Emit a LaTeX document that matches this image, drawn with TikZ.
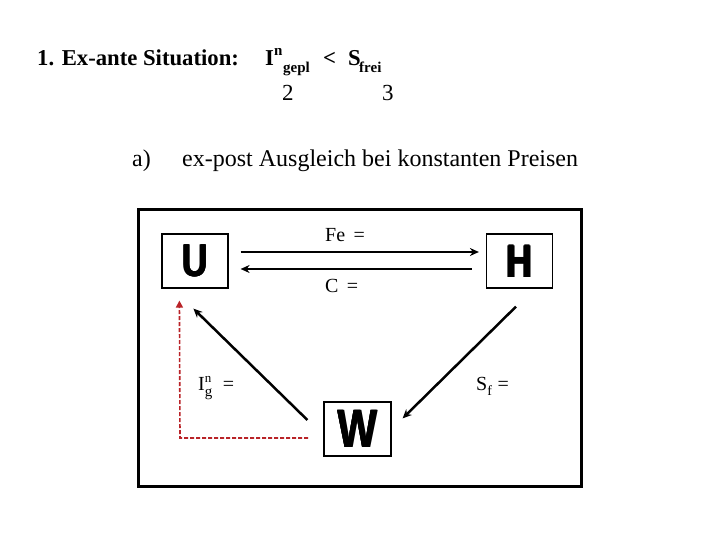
\documentclass[tikz,border=0pt]{standalone}
\usepackage{fontspec}
\setmainfont{Liberation Serif}
\newfontfamily\boxfont{Liberation Sans}
\usetikzlibrary{arrows.meta,calc}
\definecolor{dred}{RGB}{185,35,40}
\newcommand\heavyglyph[1]{\makebox[0pt][l]{\hspace{-0.8pt}#1}\makebox[0pt][l]{\hspace{0.8pt}#1}\makebox[0pt][l]{\raisebox{0.5pt}{#1}}#1}
\tikzset{
  lbl/.style={anchor=base west,inner sep=0pt},
  letterbox/.style={draw,line width=1.2pt,minimum width=66pt,minimum height=54pt,inner sep=0pt,font=\boxfont\bfseries\fontsize{46}{46}\selectfont},
  flow/.style={line width=2.5pt,-{Stealth[length=9pt,width=8pt]}},
  reddash/.style={dred,line width=1.6pt,dash pattern=on 4pt off 2pt,-{Triangle[length=7pt,width=7pt]}},
}
\begin{document}
\begin{tikzpicture}[x=1pt,y=-1pt]
\useasboundingbox (0,0) rectangle (720,540);
% heading
\node[lbl,font=\bfseries\fontsize{22.7}{26}\selectfont] (title) at (37,66) {1. Ex-ante Situation:};
\node[lbl,font=\bfseries\fontsize{22.7}{26}\selectfont] (ign) at (265,66) {I};
\node[lbl,font=\bfseries\fontsize{15}{17}\selectfont] (ignsup) at (274,56) {n};
\node[lbl,font=\bfseries\fontsize{15}{17}\selectfont] (ignsub) at (283,73) {gepl};
\node[lbl,font=\bfseries\fontsize{22.7}{26}\selectfont] (lt) at (323,66) {<};
\node[lbl,font=\bfseries\fontsize{22.7}{26}\selectfont] (sfr) at (348,66) {S};
\node[lbl,font=\bfseries\fontsize{15}{17}\selectfont] (sfrsub) at (359,73) {frei};
\node[lbl,font=\fontsize{23}{27}\selectfont] (two) at (282,101) {2};
\node[lbl,font=\fontsize{23}{27}\selectfont] (three) at (382,101) {3};
\node[lbl,font=\fontsize{24}{28}\selectfont] (a) at (132,167) {a)};
\node[lbl,font=\fontsize{24}{28}\selectfont] (sub) at (182,167) {ex-post Ausgleich bei konstanten Preisen};
% frame
\draw[line width=3pt] (138.5,209.5) rectangle (581.5,486.5);
% boxes
\node[letterbox] (U) at (195,261) {\scalebox{0.78}[1]{\heavyglyph{U}}};
\node[letterbox] (H) at (519.5,261) {\scalebox{0.78}[1]{\heavyglyph{H}}};
\node[letterbox,minimum width=67pt,font=\boxfont\bfseries\fontsize{54}{54}\selectfont] (W) at (357.5,429) {\scalebox{0.78}[1]{\heavyglyph{W}}};
% horizontal flows
\draw[flow] ([xshift=12pt,yshift=9pt]U.east) -- ([xshift=-7pt,yshift=9pt]H.west);
\draw[flow] ([xshift=-14pt,yshift=-8pt]H.west) -- ([xshift=12pt,yshift=-8pt]U.east);
\node[lbl,font=\fontsize{20}{23}\selectfont] (fe) at (325,241) {Fe\, =};
\node[lbl,font=\fontsize{20}{23}\selectfont] (c) at (325,292) {C\, =};
% diagonals
\draw[flow] ([xshift=-16pt,yshift=9pt]W.west) -- ([xshift=32pt,yshift=-20pt]U.south west);
\draw[flow] ([xshift=-3.5pt,yshift=-18pt]H.south) -- ([xshift=11pt,yshift=-17pt]W.north east);
\node[lbl,font=\fontsize{20}{23}\selectfont] (ing) at (198,390) {I\raisebox{8pt}{\fontsize{13}{15}\selectfont n}\hspace{-6.5pt}\raisebox{-6pt}{\fontsize{15}{16}\selectfont g}\; =};
\node[lbl,font=\fontsize{20}{23}\selectfont] (sf) at (476,390) {S\raisebox{-5pt}{\fontsize{14}{15}\selectfont f}\;=};
% red dashed return
\coordinate (rc) at (180,438);
\coordinate (re) at (308,438);
\draw[reddash] (re) -- (rc) -- ([xshift=18pt,yshift=-12pt]U.south west);
\end{tikzpicture}
\end{document}
